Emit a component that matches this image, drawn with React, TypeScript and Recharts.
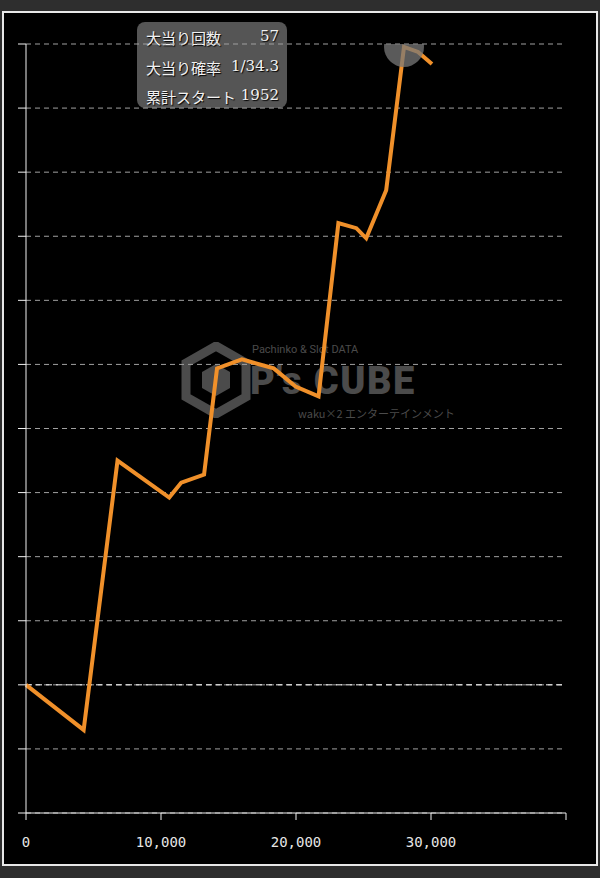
import React from 'react';
import {
  LineChart,
  Line,
  XAxis,
  YAxis,
  CartesianGrid,
  ReferenceLine,
  ReferenceDot,
} from 'recharts';

// 累計スタート (x) と 差玉 (y)
const starts = [0, 4270, 6780, 10610, 11500, 13190, 14150, 15990, 18350, 19970, 21670, 23140, 24470, 25200, 26680, 28000, 29040, 30070];
const balls = [0, -3520, 17500, 14610, 15780, 16410, 24690, 25390, 24690, 23280, 22500, 36020, 35630, 34840, 38590, 49770, 49380, 48440];

const xTicks = [0, 10000, 20000, 30000, 40000];
const yTicks = [-10000, -5000, 0, 5000, 10000, 15000, 20000, 25000, 30000, 35000, 40000, 45000, 50000];

const infoRows = [
  ['大当り回数', '57'],
  ['大当り確率', '1/34.3'],
  ['累計スタート', '1952'],
];

const data = starts.map((s, i) => ({ start: s, value: balls[i] }));
const peak = data.reduce((a, b) => (b.value > a.value ? b : a));

const fmt = (v: number) => (v >= 40000 ? '' : v.toLocaleString('en-US'));

function Watermark() {
  return (
    <div style={{ position: 'absolute', left: 180, top: 340, width: 250, height: 80, color: '#4b4b4b', lineHeight: 1 }}>
      <svg width={72} height={76} style={{ position: 'absolute', left: 0, top: 2 }}>
        <polygon points="36,4 66,21 66,55 36,72 6,55 6,21" fill="none" stroke="#4b4b4b" strokeWidth={9} />
        <polygon points="36,22 50,30 50,46 36,54 22,46 22,30" fill="#4b4b4b" />
      </svg>
      <div style={{ position: 'absolute', left: 72, top: 4, fontFamily: 'Roboto, sans-serif', fontSize: 11, whiteSpace: 'nowrap' }}>
        Pachinko &amp; Slot DATA
      </div>
      <div style={{ position: 'absolute', left: 70, top: 22, fontFamily: 'Roboto, sans-serif', fontWeight: 900, fontSize: 38, whiteSpace: 'nowrap', letterSpacing: 1.5 }}>
        P's CUBE
      </div>
      <div style={{ position: 'absolute', left: 118, top: 68, fontFamily: '"Noto Sans CJK JP", sans-serif', fontSize: 11, whiteSpace: 'nowrap' }}>
        waku×2 エンターテインメント
      </div>
    </div>
  );
}

function InfoBox() {
  return (
    <div
      style={{
        position: 'absolute',
        left: 137,
        top: 22,
        width: 150,
        height: 86,
        borderRadius: 8,
        background: '#555555',
        fontFamily: '"DejaVu Serif", "Noto Sans CJK JP", serif',
        fontSize: 15,
        color: '#f2f2f2',
        textShadow: '1px 1px 1px #000',
      }}
    >
      {infoRows.map(([k, v], i) => (
        <div
          key={k}
          style={{ position: 'absolute', left: 9, right: 8, top: 5 + i * 29.5, display: 'flex', justifyContent: 'space-between' }}
        >
          <span>{k}</span>
          <span>{v}</span>
        </div>
      ))}
    </div>
  );
}

export default function App() {
  return (
    <div style={{ position: 'fixed', left: 0, top: 0, width: 600, height: 878, background: '#2e2e2e', overflow: 'hidden' }}>
      <div
        style={{
          position: 'absolute',
          left: 2,
          top: 11,
          width: 592,
          height: 851,
          background: '#000',
          border: '2px solid #e8e8e8',
        }}
      />
      <Watermark />
      <InfoBox />
      <div style={{ position: 'absolute', left: 0, top: 0 }}>
        <LineChart width={600} height={878} data={data} margin={{ top: 44, right: 34, bottom: 35, left: 6 }}>
          <CartesianGrid vertical={false} stroke="#a0a0a0" strokeDasharray="5 4" />
          <XAxis
            type="number"
            dataKey="start"
            domain={[0, 40000]}
            ticks={xTicks}
            tickFormatter={fmt}
            height={30}
            tickSize={7}
            tickMargin={17}
            stroke="#f0f0f0"
            tick={{ fill: '#e6e6e6', fontSize: 14, fontFamily: '"DejaVu Sans Mono", monospace' }}
            interval={0}
          />
          <YAxis
            type="number"
            domain={[-10000, 50000]}
            ticks={yTicks}
            width={20}
            tickSize={8}
            tickFormatter={() => ''}
            stroke="#f0f0f0"
            interval={0}
          />
          <ReferenceLine y={0} stroke="#ffffff" strokeDasharray="6 4" />
          <ReferenceDot
            x={peak.start}
            y={peak.value}
            r={20}
            fill="rgba(120,120,120,0.75)"
            stroke="none"
            ifOverflow="hidden"
          />
          <Line
            type="linear"
            dataKey="value"
            stroke="#f0902a"
            strokeWidth={4}
            dot={false}
            isAnimationActive={false}
          />
        </LineChart>
      </div>
    </div>
  );
}
